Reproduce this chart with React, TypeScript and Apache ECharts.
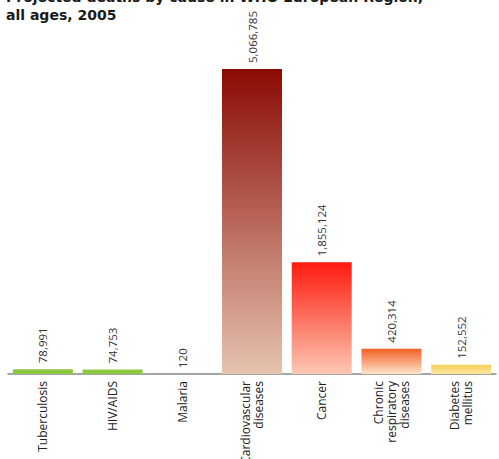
import React, { useEffect, useRef } from "react";
import * as echarts from "echarts";

const categories = [
  "Tuberculosis",
  "HIV/AIDS",
  "Malaria",
  "Cardiovascular\ndiseases",
  "Cancer",
  "Chronic\nrespiratory\ndiseases",
  "Diabetes\nmellitus",
];
const deaths = [78991, 74753, 120, 5066785, 1855124, 420314, 152552];
const topColors = ["#8dc63f", "#8dc63f", "#8dc63f", "#8a0a03", "#ff1a0e", "#f25f24", "#f7cf55"];
const bottomColors = ["#8dc63f", "#8dc63f", "#8dc63f", "#e6c4b0", "#fbc8b3", "#fde3c9", "#fde8a2"];
const titleLines = ["Projected deaths by cause in WHO European Region,", "all ages, 2005"];

export default function App() {
  const ref = useRef<HTMLDivElement>(null);
  useEffect(() => {
    if (!ref.current) return;
    const chart = echarts.init(ref.current, null, { renderer: "svg" });
    chart.setOption({
      animation: false,
      graphic: [
        {
          type: "text",
          x: 6,
          y: -10,
          style: {
            text: titleLines[0],
            font: "bold 14px 'DejaVu Sans'",
            fill: "#1a1a1a",
            verticalAlign: "top",
          },
        },
        {
          type: "text",
          x: 6,
          y: 8,
          style: {
            text: titleLines[1],
            font: "bold 14px 'DejaVu Sans'",
            fill: "#1a1a1a",
            verticalAlign: "top",
          },
        },
      ],
      grid: {
        left: 8,
        right: 3,
        top: 69,
        bottom: 85,
        containLabel: false,
        outerBoundsMode: "none",
      },
      xAxis: {
        type: "category",
        data: categories,
        axisLine: { lineStyle: { color: "#888", width: 1.5 } },
        axisTick: { show: false },
        axisLabel: {
          rotate: 90,
          interval: 0,
          margin: 7,
          color: "#222",
          fontFamily: "Open Sans",
          fontSize: 12,
          lineHeight: 13,
          hideOverlap: false,
        },
      },
      yAxis: {
        type: "value",
        min: 0,
        max: 5066785,
        show: false,
        splitLine: { show: false },
      },
      series: [
        {
          type: "bar",
          barWidth: 60,
          data: deaths.map((v, i) => ({
            value: v,
            itemStyle: {
              color: {
                type: "linear",
                x: 0,
                y: 0,
                x2: 0,
                y2: 1,
                colorStops: [
                  { offset: 0, color: topColors[i] },
                  { offset: 1, color: bottomColors[i] },
                ],
              },
            },
          })),
          label: {
            show: true,
            position: "top",
            rotate: 90,
            align: "left",
            verticalAlign: "middle",
            distance: 6,
            color: "#333",
            fontFamily: "Open Sans",
            fontSize: 11.5,
            formatter: (p: any) => Number(p.value).toLocaleString("en-US"),
          },
        },
      ],
    });
    return () => chart.dispose();
  }, []);
  return (
    <div
      ref={ref}
      style={{ position: "absolute", left: 0, top: 0, width: 499, height: 459 }}
    />
  );
}
